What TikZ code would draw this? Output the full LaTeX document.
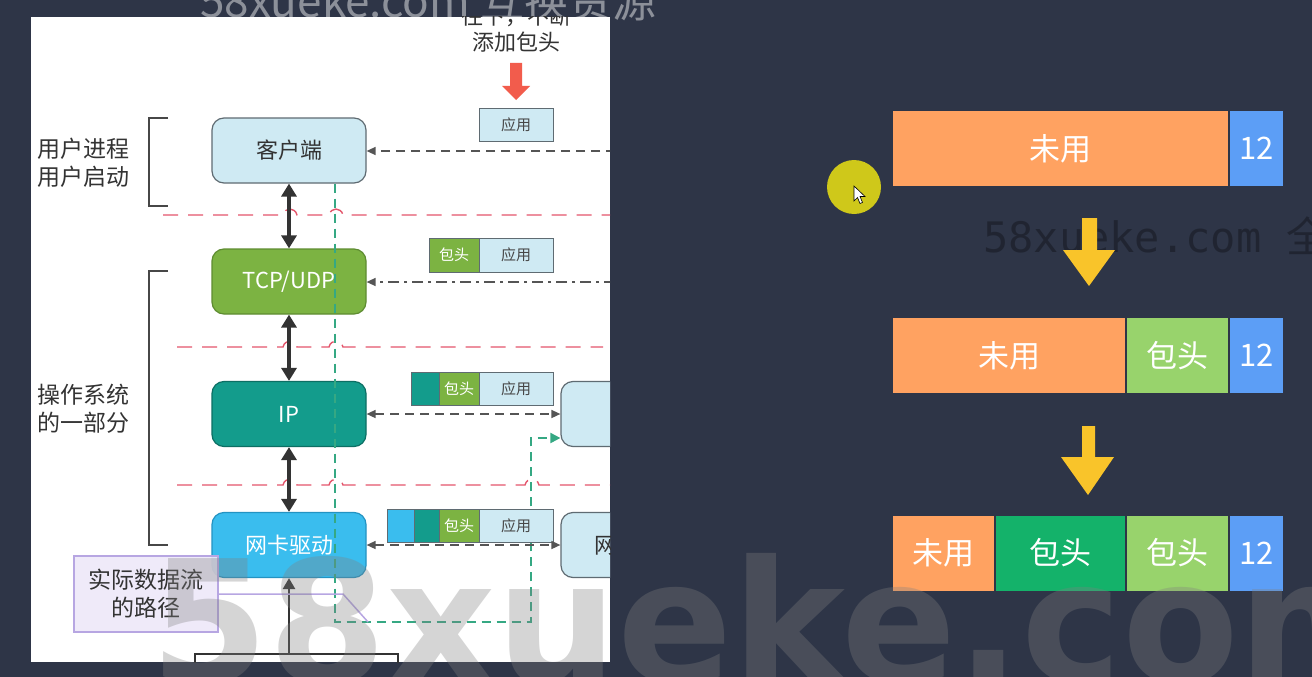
\documentclass[tikz,border=0pt]{standalone}
\usepackage{fontspec}
\setmainfont{Noto Sans CJK SC}
\newfontfamily\wmmono{DejaVu Sans Mono}
\newfontfamily\wmsans{DejaVu Sans Bold}
\usetikzlibrary{arrows.meta}
\definecolor{bgc}{HTML}{2E3547}
\definecolor{cliF}{HTML}{CFEAF3}
\definecolor{cliD}{HTML}{5F6B72}
\definecolor{tcpF}{HTML}{7CB342}
\definecolor{tcpD}{HTML}{5E8C31}
\definecolor{ipF}{HTML}{139C8C}
\definecolor{ipD}{HTML}{0C6F64}
\definecolor{nicF}{HTML}{3ABDEE}
\definecolor{nicD}{HTML}{2393C2}
\definecolor{redD}{HTML}{E4566C}
\definecolor{grnD}{HTML}{35A883}
\definecolor{gryL}{HTML}{555555}
\definecolor{txtD}{HTML}{333333}
\definecolor{purL}{HTML}{B7A6E2}
\definecolor{purF}{HTML}{EEE9F9}
\definecolor{redA}{HTML}{F25C4C}
\definecolor{orgB}{HTML}{FFA261}
\definecolor{bluB}{HTML}{5C9EF6}
\definecolor{lgrB}{HTML}{98D36C}
\definecolor{dgrB}{HTML}{14B26A}
\definecolor{yelA}{HTML}{F9C42A}
\definecolor{curC}{HTML}{CFC81A}
\newcommand\fsz[2]{\fontsize{#1}{#2}\selectfont}
\tikzset{
  lay/.style={rounded corners=12pt, minimum width=154pt, minimum height=65pt,
    line width=1.2pt, inner sep=0pt, font=\fsz{22}{26}},
  pk/.style={draw=cliD, line width=1pt, minimum height=33pt, inner sep=0pt,
    font=\fsz{15}{18}},
  blk/.style={minimum height=75pt, inner sep=0pt, text=white, font=\fsz{31}{36}},
  reddash/.style={draw=redD, line width=1.4pt, dash pattern=on 15pt off 10pt},
  grndash/.style={draw=grnD, line width=2pt, dash pattern=on 9pt off 6pt},
  gconn/.style={draw=gryL, line width=1.5pt, dash pattern=on 9pt off 6pt},
  gtip/.style={-{Triangle[length=9pt,width=8pt]}},
  dbl/.style={draw=txtD, line width=3.2pt, {Triangle[length=13pt,width=15pt]}-{Triangle[length=13pt,width=15pt]}},
  brk/.style={draw=txtD!90, line width=2pt},
  lbl/.style={align=left, text=txtD, font=\fsz{23}{28}, inner sep=0pt},
}
\begin{document}
\begin{tikzpicture}[x=1pt,y=-1pt]
\useasboundingbox (0,0) rectangle (1312,677);
\fill[bgc] (0,0) rectangle (1312,677);
% top watermark
\node[anchor=base west, text=white, text opacity=0.45, font=\fsz{44}{48}, inner sep=0pt] (wmtop) at (200,18) {58xueke.com 互换资源};
% white panel
\fill[white] (31,17) rectangle (610,662);
\begin{scope}
\clip (31,17) rectangle (610,662);
% top instruction
\node[text=txtD, font=\fsz{22}{26}, align=center, inner sep=0pt] (hint) at (516,29) {往下，不断\\添加包头};
\fill[redA] (510,63) -- (522,63) -- (522,86) -- (530,86) -- (516,100) -- (502,86) -- (510,86) -- cycle;
% red dashed separators with line jumps
\draw[reddash] (163,215) -- (283,215) .. controls (285,207) and (295,207) .. (297,215) -- (329,215) .. controls (331,207) and (341,207) .. (343,215) -- (612,215);
\draw[reddash] (177,347) -- (283,347) .. controls (285,339) and (295,339) .. (297,347) -- (329,347) .. controls (331,339) and (341,339) .. (343,347) -- (603,347);
\draw[reddash] (177,485) -- (283,485) .. controls (285,477) and (295,477) .. (297,485) -- (329,485) .. controls (331,477) and (341,477) .. (343,485) -- (525,485) .. controls (527,477) and (537,477) .. (539,485) -- (612,485);
% layer nodes
\node[lay, fill=cliF, draw=cliD, text=txtD] (cli) at (289,150.5) {客户端};
\node[lay, fill=tcpF, draw=tcpD, text=white] (tcp) at (289,281.5) {TCP/UDP};
\node[lay, fill=ipF, draw=ipD, text=white] (ip) at (289,414) {IP};
\node[lay, fill=nicF, draw=nicD, text=white] (nic) at (289,545) {网卡驱动};
\node[lay, fill=cliF, draw=cliD, text=txtD] (rip) at (638,414) {};
\node[lay, fill=cliF, draw=cliD, text=txtD] (rnic) at (638,545) {网卡驱动};
% brackets and labels
\draw[brk] (168,118) -- (149,118) -- (149,206) -- (168,206);
\draw[brk] (168,271) -- (149,271) -- (149,545) -- (168,545);
\node[lbl, anchor=west] (lusr) at (37,163) {用户进程\\用户启动};
\node[lbl, anchor=west] (los) at (37,409) {操作系统\\的一部分};
% vertical double arrows
\draw[dbl] (cli.south) -- (tcp.north);
\draw[dbl] (tcp.south) -- (ip.north);
\draw[dbl] (ip.south) -- (nic.north);
% bottom frame and arrow
\coordinate (bot) at (289,654);
\draw[draw=txtD, line width=2pt] (195,668) -- (195,654) -- (398,654) -- (398,668);
\draw[draw=txtD, line width=2.5pt, -{Triangle[length=11pt,width=12pt]}] (bot) -- (nic.south);
% green data path
\coordinate (g0) at (335,622);
\coordinate (g1) at (531,622);
\coordinate (g2) at (531,438);
\draw[grndash, -{Triangle[length=10pt,width=10pt]}] (g0 |- cli.south) -- (g0) -- (g1) -- (g2) -- (rip.west |- g2);
% packets
\node[pk, fill=cliF, minimum width=74pt, text=txtD!90] (p1a) at (516,124.5) {应用};
\node[pk, fill=tcpF, minimum width=50pt, text=white, minimum height=34pt] (p2h) at (454,255) {包头};
\node[pk, fill=cliF, minimum width=74pt, text=txtD!90, minimum height=34pt] (p2a) at (516,255) {应用};
\node[pk, fill=ipF, minimum width=28pt] (p3t) at (425,388.5) {};
\node[pk, fill=tcpF, minimum width=40pt, text=white] (p3h) at (459,388.5) {包头};
\node[pk, fill=cliF, minimum width=74pt, text=txtD!90] (p3a) at (516,388.5) {应用};
\node[pk, fill=nicF, minimum width=27pt] (p4b) at (400.5,525.5) {};
\node[pk, fill=ipF, minimum width=25pt] (p4t) at (426.5,525.5) {};
\node[pk, fill=tcpF, minimum width=40pt, text=white] (p4h) at (459,525.5) {包头};
\node[pk, fill=cliF, minimum width=74pt, text=txtD!90] (p4a) at (516,525.5) {应用};
% horizontal connectors
\coordinate (r1) at (615,151);
\coordinate (r2) at (615,282);
\draw[gconn, gtip] (r1) -- (cli.east |- r1);
\draw[draw=gryL, line width=1.5pt, dash pattern=on 11pt off 5pt on 3pt off 5pt, gtip] (r2) -- (tcp.east |- r2);
\draw[gconn, {Triangle[length=9pt,width=8pt]}-{Triangle[length=9pt,width=8pt]}] (ip.east) -- (rip.west);
\draw[gconn, {Triangle[length=9pt,width=8pt]}-{Triangle[length=9pt,width=8pt]}] (nic.east) -- (rnic.west);
% data flow note
\coordinate (pp1) at (343,594);
\coordinate (pp2) at (368,622);
\draw[draw=purL, line width=1.5pt] (pp2) -- (pp1) -- (218,594);
\node[draw=purL, fill=purF, fill opacity=0.92, text opacity=1, line width=1.5pt, minimum width=144pt, minimum height=76pt, inner sep=0pt, align=center, text=txtD, font=\fsz{23}{28}] (flow) at (146,594) {实际数据流\\的路径};
\end{scope}
% right side blocks
\node[blk, fill=orgB, minimum width=335pt] (a1) at (1060.5,148.5) {未用};
\node[blk, fill=bluB, minimum width=53pt] (a2) at (1256.5,148.5) {12};
\node[blk, fill=orgB, minimum width=232pt] (b1) at (1009,355.5) {未用};
\node[blk, fill=lgrB, minimum width=101pt] (b2) at (1177.5,355.5) {包头};
\node[blk, fill=bluB, minimum width=53pt] (b3) at (1256.5,355.5) {12};
\node[blk, fill=orgB, minimum width=101pt] (c1) at (943.5,553) {未用};
\node[blk, fill=dgrB, minimum width=129pt] (c2) at (1060.5,553) {包头};
\node[blk, fill=lgrB, minimum width=101pt] (c3) at (1177.5,553) {包头};
\node[blk, fill=bluB, minimum width=53pt] (c4) at (1256.5,553) {12};
% mono watermark
\node[anchor=base west, text=black, text opacity=0.3, font=\wmmono\fsz{42}{46}, inner sep=0pt] (wmmid) at (983,252) {58xueke.com \textrm{全}};
% yellow arrows
\fill[yelA] (1082,218) -- (1097,218) -- (1097,250) -- (1115,250) -- (1089,286) -- (1063,250) -- (1082,250) -- cycle;
\fill[yelA] (1082,426) -- (1095,426) -- (1095,457) -- (1114,457) -- (1088,495) -- (1061,457) -- (1082,457) -- cycle;
% cursor
\fill[curC] (854,187) circle (27);
\draw[fill=white, draw=black, line width=0.6pt] (854,186) -- (854,201) -- (857.5,197.5) -- (860,203.5) -- (862.5,202.5) -- (860,196.5) -- (865,196.5) -- cycle;
% big watermark
\node[anchor=base west, text=gray, text opacity=0.33, font=\wmsans\fsz{170}{172}, inner sep=0pt] (wmbig) at (150,682) {58xueke.com};
\end{tikzpicture}
\end{document}
